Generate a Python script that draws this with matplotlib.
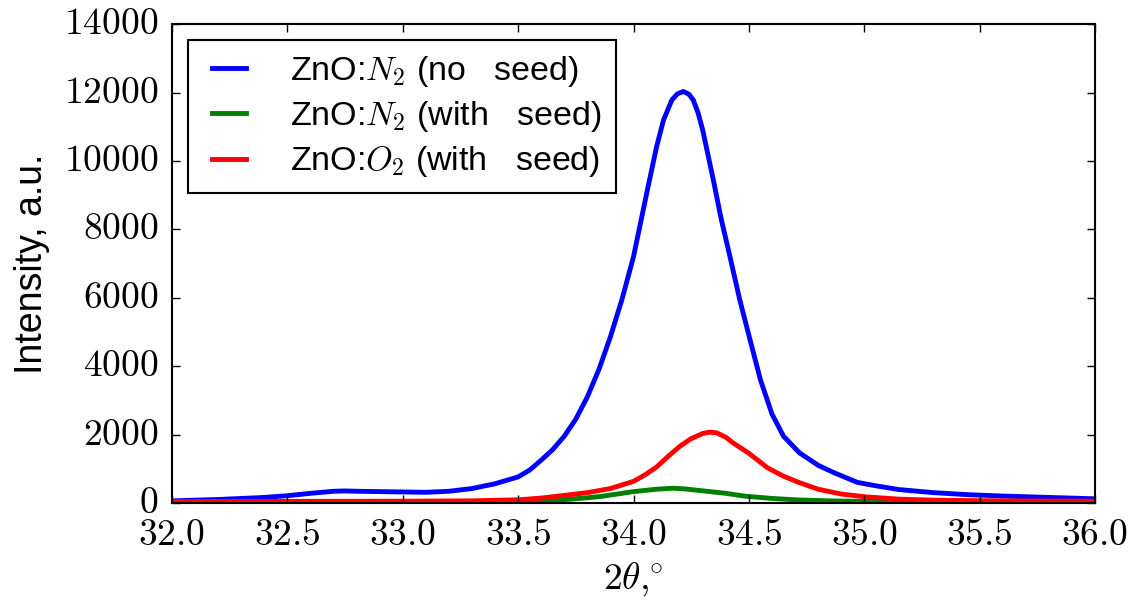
import matplotlib
matplotlib.use("Agg")
import matplotlib.pyplot as plt
from matplotlib.ticker import FuncFormatter, MultipleLocator

plt.style.use("classic")
plt.rcParams["mathtext.fontset"] = "cm"
plt.rcParams["font.family"] = ["Liberation Sans", "DejaVu Sans"]

# values (2theta, intensity)
blue_x = [32.0, 32.2, 32.4, 32.5, 32.6, 32.7, 32.75, 32.8, 32.9, 33.0, 33.1,
          33.2, 33.3, 33.4, 33.5, 33.55, 33.6, 33.65, 33.7, 33.75, 33.8, 33.85,
          33.9, 33.95, 34.0, 34.057, 34.1, 34.13, 34.166, 34.19, 34.216, 34.24,
          34.259, 34.28, 34.3, 34.346, 34.38, 34.418, 34.46, 34.5, 34.55, 34.6,
          34.65, 34.72, 34.8, 34.87, 34.97, 35.05, 35.15, 35.3, 35.45, 35.6,
          35.75, 35.9, 36.0]
blue_y = [60, 100, 160, 210, 280, 340, 350, 340, 330, 320, 310,
          340, 420, 560, 760, 960, 1250, 1560, 1950, 2450, 3100, 3900,
          4860, 5950, 7200, 9050, 10414, 11195, 11780, 11960, 12030, 11950,
          11780, 11400, 10900, 9440, 8300, 7200, 5950, 4900, 3600, 2600,
          1950, 1460, 1100, 880, 600, 500, 390, 300, 240, 200,
          170, 140, 120]

green_x = [32.0, 33.0, 33.5, 33.6, 33.7, 33.8, 33.86, 33.95, 34.0, 34.1, 34.17,
           34.22, 34.29, 34.4, 34.48, 34.6, 34.72, 34.85, 35.0, 35.5, 36.0]
green_y = [20, 25, 50, 70, 95, 150, 190, 280, 330, 400, 430,
           410, 360, 280, 200, 130, 85, 60, 45, 30, 25]

red_x = [32.0, 32.5, 33.0, 33.3, 33.5, 33.6, 33.7, 33.8, 33.9, 34.0, 34.05,
         34.1, 34.15, 34.2, 34.25, 34.3, 34.33, 34.36, 34.4, 34.43, 34.5,
         34.58, 34.65, 34.72, 34.8, 34.9, 35.0, 35.15, 35.3, 35.5, 35.75, 36.0]
red_y = [40, 45, 50, 60, 90, 140, 220, 300, 420, 630, 820,
         1050, 1360, 1650, 1880, 2030, 2070, 2050, 1920, 1760, 1450,
         1030, 780, 590, 400, 260, 180, 110, 80, 65, 55, 50]

labels = ["ZnO:$N_2$ (no   seed)",
          "ZnO:$N_2$ (with   seed)",
          "ZnO:$O_2$ (with   seed)"]

fig = plt.figure(figsize=(11.39, 6.03), dpi=100, facecolor="white")
ax = fig.add_axes([0.151, 0.166, 0.8104, 0.794])

ax.plot(blue_x, blue_y, color="b", lw=3.5, label=labels[0])
ax.plot(green_x, green_y, color="g", lw=3.5, label=labels[1])
ax.plot(red_x, red_y, color="r", lw=3.5, label=labels[2])

ax.set_xlim(32, 36)
ax.set_ylim(0, 14000)
ax.xaxis.set_major_locator(MultipleLocator(0.5))
ax.yaxis.set_major_locator(MultipleLocator(2000))
ax.xaxis.set_major_formatter(FuncFormatter(lambda v, p: "$%.1f$" % v))
ax.yaxis.set_major_formatter(FuncFormatter(lambda v, p: "$%d$" % v))
ax.tick_params(labelsize=27, length=6, width=1, direction="in", pad=10)
for s in ax.spines.values():
    s.set_linewidth(1.5)

ax.set_xlabel(r"$2\theta{,}^{\circ}$", fontsize=27)
ax.set_ylabel("Intensity, a.u.", fontsize=27, labelpad=10)

leg = ax.legend(loc="upper left", fontsize=24.5, handlelength=1.6,
                borderaxespad=0.48, labelspacing=0.3, handletextpad=1.0)
leg.get_frame().set_linewidth(1.5)

fig.savefig("out.png", dpi=100, facecolor="white")
